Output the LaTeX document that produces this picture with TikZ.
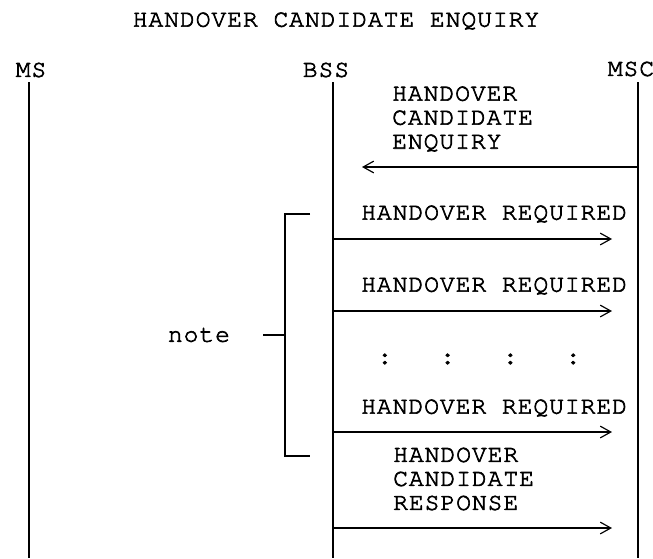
\documentclass[tikz,border=0pt]{standalone}
\usepackage{fontspec}
\setmonofont{texgyrecursor-regular.otf}[LetterSpace=4, FakeBold=2.5]
\usetikzlibrary{arrows.meta, positioning}

\begin{document}
\begin{tikzpicture}[
    x=0.03cm, y=-0.03cm,
    >={Straight Barb[length=9pt, width=10pt, line width=1pt]},
    % --- estilos ---
    mono/.style={font=\fontsize{21pt}{20.5pt}\selectfont\ttfamily, inner sep=0pt, text=black},
    entity/.style={mono},
    msglabel/.style={mono, anchor=west, align=left},
    lifeline/.style={line width=1.6pt},
    msg/.style={->, line width=1.5pt},
    bracket/.style={line width=1.5pt}
]
\useasboundingbox (0,0) rectangle (653,558);

% ====== Titulo y entidades ======
\node[mono] (title) at (336,21) {HANDOVER CANDIDATE ENQUIRY};

\node[entity] (ms)  at (31,70)  {MS};
\node[entity] (bss) at (326,70) {BSS};
\node[entity] (msc) at (631,69) {MSC};

% Lineas de vida
\coordinate (ms-top)  at (29,82);   \coordinate (ms-bot)  at (29,558);
\coordinate (bss-top) at (333,82);  \coordinate (bss-bot) at (333,558);
\coordinate (msc-top) at (638,82);  \coordinate (msc-bot) at (638,558);

\draw[lifeline] (ms-top) -- (ms-bot);
\draw[lifeline] (bss-top) -- (bss-bot);
\draw[lifeline] (msc-top) -- (msc-bot);

% ====== Mensajes ======
\coordinate (enq-s) at (638,167);  \coordinate (enq-e) at (362,167);
\coordinate (req1-s) at (333,239); \coordinate (req1-e) at (612,239);
\coordinate (req2-s) at (333,311); \coordinate (req2-e) at (612,311);
\coordinate (req3-s) at (333,432); \coordinate (req3-e) at (612,432);
\coordinate (resp-s) at (333,528); \coordinate (resp-e) at (612,528);

\node[msglabel] (enqLabel) at (392,119) {HANDOVER\\CANDIDATE\\ENQUIRY};
\draw[msg] (enq-s) -- (enq-e);

\node[msglabel] (req1Label) at (361,214) {HANDOVER REQUIRED};
\draw[msg] (req1-s) -- (req1-e);

\node[msglabel] (req2Label) at (361,286) {HANDOVER REQUIRED};
\draw[msg] (req2-s) -- (req2-e);

\node[mono] (dots) at (479,359) {:\hspace{41pt}:\hspace{41pt}:\hspace{41pt}:};

\node[msglabel] (req3Label) at (361,408) {HANDOVER REQUIRED};
\draw[msg] (req3-s) -- (req3-e);

\node[msglabel] (respLabel) at (393,479) {HANDOVER\\CANDIDATE\\RESPONSE};
\draw[msg] (resp-s) -- (resp-e);

% ====== Llave de nota ======
\coordinate (brk-top) at (310,214);
\coordinate (brk-bot) at (310,456);
\coordinate (brk-mid) at (285,335);
\coordinate (tick) at (263,335);

\draw[bracket] (brk-top) -| (brk-mid) |- (brk-bot);
\draw[bracket] (tick) -- (brk-mid);
\node[mono, left=28pt of tick] (note) {note};

\end{tikzpicture}
\end{document}
